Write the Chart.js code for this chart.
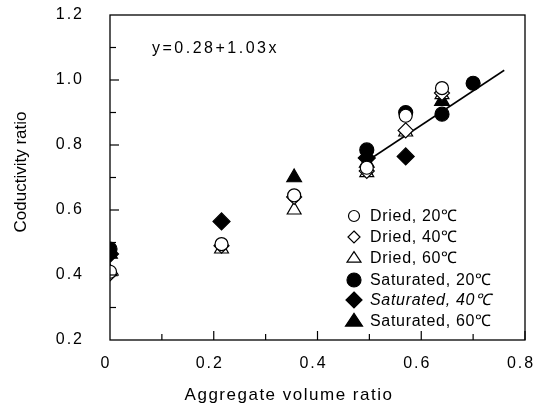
<!DOCTYPE html>
<html>
<head>
<meta charset="utf-8">
<script src="https://cdn.jsdelivr.net/npm/chart.js@4/dist/chart.umd.min.js"></script>
<style>
  html, body { margin: 0; padding: 0; background: #fff; }
</style>
</head>
<body>
<canvas id="chart" width="536" height="407"></canvas>
<script>
// values
const driedX20 = [0, 0.215, 0.355, 0.495, 0.57, 0.64];
const driedY20 = [0.41, 0.495, 0.645, 0.73, 0.89, 0.975];
const driedX40 = [0, 0.215, 0.355, 0.495, 0.57, 0.64];
const driedY40 = [0.405, 0.49, 0.64, 0.72, 0.845, 0.96];
const driedX60 = [0, 0.215, 0.355, 0.495, 0.57, 0.64];
const driedY60 = [0.41, 0.48, 0.60, 0.715, 0.84, 0.955];
const satX20 = [0, 0.495, 0.57, 0.64, 0.70];
const satY20 = [0.48, 0.785, 0.90, 0.895, 0.99];
const satX40 = [0, 0.215, 0.495, 0.57];
const satY40 = [0.465, 0.565, 0.76, 0.765];
const satX60 = [0, 0.355, 0.495, 0.64];
const satY60 = [0.465, 0.70, 0.745, 0.935];
const fitX = [0.495, 0.76];
const fitY = [0.75, 1.03];

const xTicks = [0, 0.2, 0.4, 0.6, 0.8];
const yTicks = [0.2, 0.4, 0.6, 0.8, 1.0, 1.2];
const legendLabels = ["Dried, 20\u2103", "Dried, 40\u2103", "Dried, 60\u2103",
  "Saturated, 20\u2103", "Saturated, 40\u2103", "Saturated, 60\u2103"];

const FONT = "'Liberation Sans', Arial, sans-serif";

function pts(xs, ys) {
  return xs.map((x, i) => ({ x: x, y: ys[i] }));
}

function marker(label, xs, ys, style, filled, r) {
  return {
    label: label,
    data: pts(xs, ys),
    pointStyle: style,
    pointRadius: r,
    pointBorderWidth: 1.2,
    borderColor: "#000",
    backgroundColor: filled ? "#000" : "#fff",
    showLine: false
  };
}

const datasets = [
  marker(legendLabels[0], driedX20, driedY20, "circle", false, 6.5),
  marker(legendLabels[1], driedX40, driedY40, "rectRot", false, 7.5),
  marker(legendLabels[2], driedX60, driedY60, "triangle", false, 8),
  marker(legendLabels[3], satX20, satY20, "circle", true, 7),
  marker(legendLabels[4], satX40, satY40, "rectRot", true, 8.5),
  marker(legendLabels[5], satX60, satY60, "triangle", true, 8.5),
  {
    label: "fit",
    data: pts(fitX, fitY),
    showLine: true,
    borderColor: "#000",
    borderWidth: 1.5,
    pointRadius: 0
  }
];

// drawing a legend symbol by hand
function drawSymbol(ctx, style, filled, x, y, r) {
  ctx.save();
  ctx.beginPath();
  if (style === "circle") {
    ctx.arc(x, y, r, 0, Math.PI * 2);
  } else if (style === "rectRot") {
    ctx.moveTo(x, y - r); ctx.lineTo(x + r, y); ctx.lineTo(x, y + r); ctx.lineTo(x - r, y);
    ctx.closePath();
  } else {
    const h = r * 1.5;
    ctx.moveTo(x, y - h * 0.6); ctx.lineTo(x + r, y + h * 0.4); ctx.lineTo(x - r, y + h * 0.4);
    ctx.closePath();
  }
  ctx.lineWidth = 1.2;
  ctx.strokeStyle = "#000";
  if (filled) { ctx.fillStyle = "#000"; ctx.fill(); }
  ctx.stroke();
  ctx.restore();
}

// the tick padding would otherwise shrink the plot area
function noPad(s) {
  s.paddingTop = 0;
  s.paddingBottom = 0;
  s.paddingLeft = 0;
  s.paddingRight = 0;
}

const framePlugin = {
  id: "frame",
  beforeDatasetsDraw(chart) {
    chart.ctx.letterSpacing = "0px";
  },
  afterDatasetsDraw(chart) {
    const { ctx, chartArea: a, scales } = chart;
    ctx.save();
    ctx.strokeStyle = "#000";
    ctx.lineWidth = 1.3;
    ctx.strokeRect(a.left, a.top, a.right - a.left, a.bottom - a.top);
    // inward ticks
    ctx.lineWidth = 1.2;
    for (let v = 0.1; v < 0.8; v += 0.1) {
      const px = scales.x.getPixelForValue(v);
      const major = Math.round(v * 10) % 2 === 0;
      ctx.beginPath();
      ctx.moveTo(px, a.bottom);
      ctx.lineTo(px, a.bottom - (major ? 9 : 6));
      ctx.stroke();
    }
    for (let v = 0.3; v < 1.2; v += 0.1) {
      const py = scales.y.getPixelForValue(v);
      const major = Math.round(v * 10) % 2 === 0;
      ctx.beginPath();
      ctx.moveTo(a.left, py);
      ctx.lineTo(a.left + (major ? 9 : 6), py);
      ctx.stroke();
    }

    ctx.fillStyle = "#000";
    ctx.textBaseline = "middle";

    // axis titles
    ctx.textAlign = "center";
    ctx.font = "17px " + FONT;
    ctx.letterSpacing = "1.5px";
    ctx.fillText("Aggregate volume ratio", 289, 395);
    ctx.letterSpacing = "0px";
    ctx.save();
    ctx.translate(21, 172);
    ctx.rotate(-Math.PI / 2);
    ctx.fillText("Coductivity ratio", 0, 0);
    ctx.restore();

    // equation
    ctx.textAlign = "left";
    ctx.font = "16px " + FONT;
    ctx.letterSpacing = "2.5px";
    ctx.fillText("y=0.28+1.03x", 152, 49);

    // legend
    ctx.letterSpacing = "0.7px";
    const rows = [216, 237, 258, 280, 300, 321];
    const styles = ["circle", "rectRot", "triangle", "circle", "rectRot", "triangle"];
    const sizes = [5.5, 6, 7, 7, 8, 8.5];
    legendLabels.forEach((lab, i) => {
      drawSymbol(ctx, styles[i], i >= 3, 354, rows[i], sizes[i]);
      ctx.font = (i === 4 ? "italic " : "") + "16px " + FONT;
      ctx.fillText(lab, 370, rows[i] + 1);
    });
    ctx.restore();
  }
};

new Chart(document.getElementById("chart"), {
  type: "scatter",
  data: { datasets: datasets },
  options: {
    responsive: false,
    animation: false,
    layout: { autoPadding: false, padding: { left: 0, right: 11, top: 15, bottom: 0 } },
    plugins: { legend: { display: false }, tooltip: { enabled: false } },
    scales: {
      x: {
        type: "linear",
        min: 0,
        max: 0.8,
        afterBuildTicks: (s) => { s.ticks = xTicks.map((v) => ({ value: v })); },
        afterFit: (s) => { s.height = 67; noPad(s); },
        grid: { display: false, drawTicks: false },
        border: { display: false },
        ticks: {
          color: "#000",
          padding: 14,
          labelOffset: -4,
          maxRotation: 0,
          font: { size: 16, family: FONT },
          callback: (v) => (v === 0 ? "0" : v.toFixed(1))
        }
      },
      y: {
        type: "linear",
        min: 0.2,
        max: 1.2,
        afterBuildTicks: (s) => { s.ticks = yTicks.map((v) => ({ value: v })); },
        afterFit: (s) => { s.width = 110; noPad(s); },
        grid: { display: false, drawTicks: false },
        border: { display: false },
        ticks: {
          color: "#000",
          padding: 26,
          font: { size: 16, family: FONT },
          callback: (v) => v.toFixed(1)
        }
      }
    }
  },
  plugins: [framePlugin, {
    id: "spacing",
    beforeDraw(chart) { chart.ctx.letterSpacing = "2px"; }
  }]
});
</script>
</body>
</html>
